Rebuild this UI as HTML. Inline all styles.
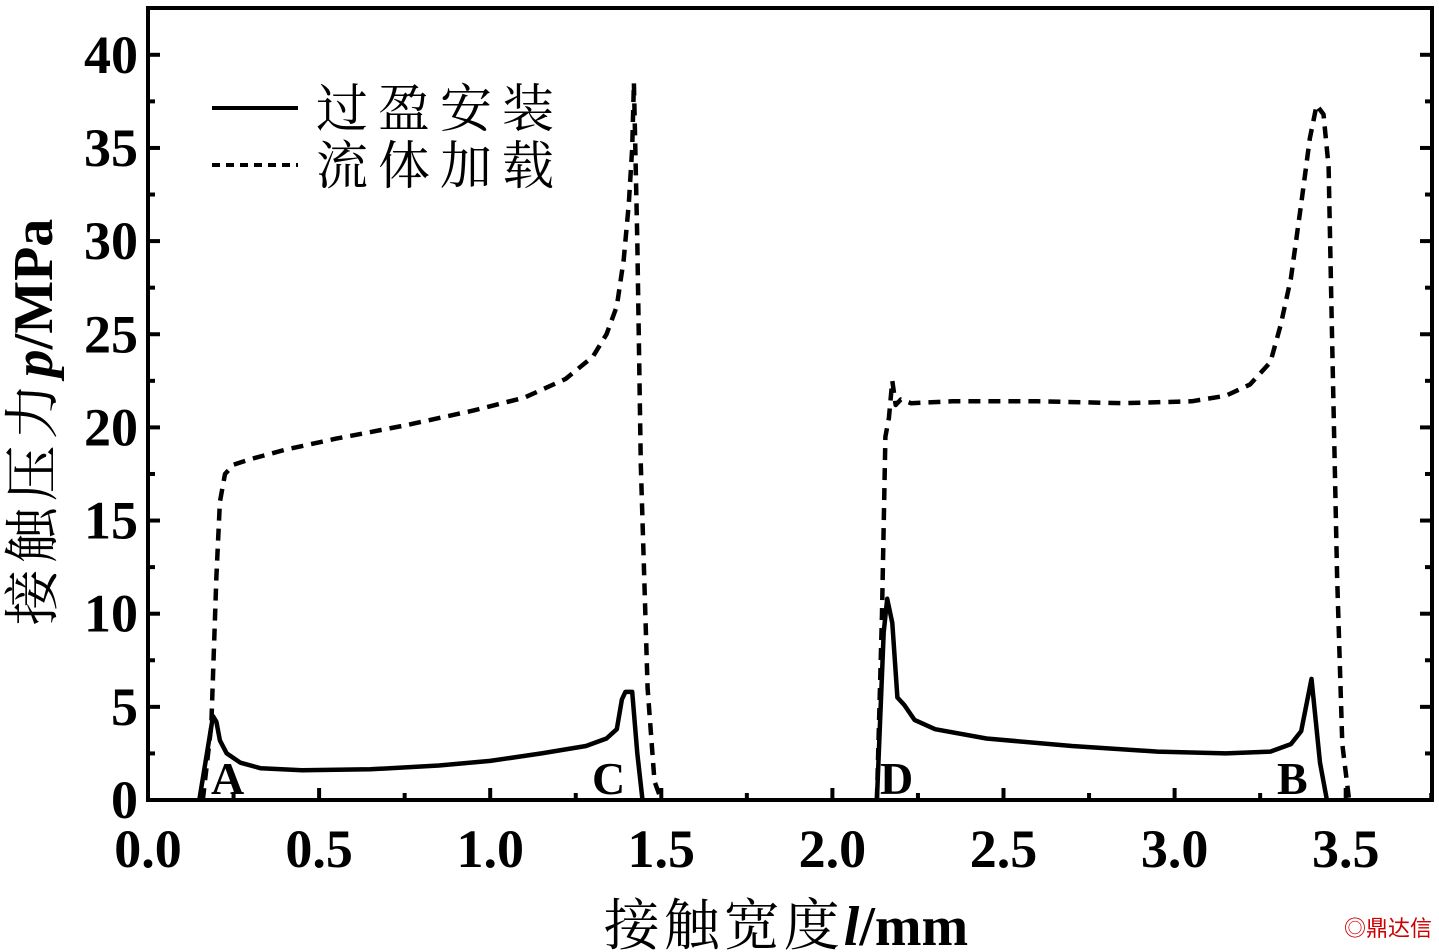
<!DOCTYPE html>
<html><head><meta charset="utf-8"><style>
body{margin:0;background:#fff;}
svg{display:block;font-family:"Liberation Serif","Noto Serif CJK SC",serif;}
</style></head><body>
<svg id="chart" width="1439" height="952" xmlns="http://www.w3.org/2000/svg">
<rect x="148" y="8" width="1284" height="792" fill="none" stroke="#000" stroke-width="4"/>
<g id="ticks"></g>
<g id="series"></g>
<g>
<line x1="212" y1="108" x2="298" y2="108" stroke="#000" stroke-width="4"/>
<text x="316" y="127" font-size="52" letter-spacing="10">过盈安装</text>
<line x1="212" y1="165" x2="298" y2="165" stroke="#000" stroke-width="4" stroke-dasharray="8,6"/>
<text x="316" y="184" font-size="52" letter-spacing="10">流体加载</text>
</g>
<g font-size="46" font-weight="bold">
<text x="211" y="794">A</text>
<text x="592" y="794">C</text>
<text x="880" y="794">D</text>
<text x="1277" y="794">B</text>
</g>
<text x="786" y="945" text-anchor="middle" font-size="56" font-weight="bold"><tspan font-weight="normal" letter-spacing="4">接触宽度</tspan><tspan font-style="italic">l</tspan>/mm</text>
<text transform="translate(52,422) rotate(-90)" text-anchor="middle" font-size="56" font-weight="bold"><tspan font-weight="normal" letter-spacing="6">接触压力</tspan><tspan font-style="italic">p</tspan>/MPa</text>
<text x="1432" y="936" text-anchor="end" font-size="22" fill="#c00" font-family="Liberation Sans,Noto Sans CJK SC,sans-serif">◎鼎达信</text>
</svg>
<script>
const xTicks=[0,0.5,1.0,1.5,2.0,2.5,3.0,3.5];
const yTicks=[0,5,10,15,20,25,30,35,40];
const solid1X=[0.15,0.19,0.2,0.21,0.23,0.27,0.33,0.45,0.65,0.85,1.0,1.15,1.28,1.34,1.37,1.385,1.395,1.415,1.43,1.445];
const solid1Y=[0,4.5,4.2,3.2,2.5,2.0,1.7,1.6,1.65,1.85,2.1,2.5,2.9,3.3,3.8,5.4,5.8,5.8,2.5,0];
const dash1X=[0.16,0.185,0.2,0.21,0.225,0.25,0.3,0.4,0.55,0.75,0.95,1.1,1.22,1.3,1.34,1.37,1.39,1.405,1.415,1.42,1.43,1.44,1.46,1.48,1.5];
const dash1Y=[0,4,12,16,17.5,18,18.3,18.8,19.4,20.1,20.9,21.6,22.6,23.8,25,26.5,29,32,35,38.5,30,18,6,1,0];
const solid2X=[2.13,2.15,2.16,2.175,2.19,2.21,2.24,2.3,2.45,2.7,2.95,3.15,3.28,3.34,3.37,3.4,3.425,3.445];
const solid2Y=[0,9,10.8,9.5,5.5,5.1,4.3,3.8,3.3,2.9,2.6,2.5,2.6,3.0,3.7,6.5,2,0];
const dash2X=[2.13,2.145,2.155,2.165,2.175,2.185,2.2,2.23,2.35,2.6,2.85,3.05,3.15,3.22,3.28,3.31,3.34,3.37,3.395,3.415,3.435,3.45,3.46,3.475,3.49,3.51];
const dash2Y=[0,10,19.5,20.5,22.5,21.2,21.5,21.3,21.4,21.4,21.3,21.4,21.7,22.3,23.5,25.5,28,32,35.5,37.3,36.8,34,25,12,3,0];
const X=v=>148+v*342.2, Y=p=>800-p*18.63;
const ns="http://www.w3.org/2000/svg";
const tg=document.getElementById('ticks'), sg=document.getElementById('series');
function mk(t,a,p){const e=document.createElementNS(ns,t);for(const k in a)e.setAttribute(k,a[k]);p.appendChild(e);return e;}
xTicks.forEach((v,i)=>{
 const t=mk('line',{x1:X(v),x2:X(v),y1:800,y2:788,stroke:'#000','stroke-width':4},tg);
 
 
 const m=mk('line',{x1:X(v+0.25),x2:X(v+0.25),y1:800,y2:793,stroke:'#000','stroke-width':4},tg);
 
 
 const l=mk('text',{x:X(v),y:867,'text-anchor':'middle','font-size':54,'font-weight':'bold'},tg);
 l.textContent=v.toFixed(1);
 
 
});
yTicks.forEach(v=>{
 [[148,160],[1432,1420]].forEach(([a,b])=>{
  const t=mk('line',{x1:a,x2:b,y1:Y(v),y2:Y(v),stroke:'#000','stroke-width':4},tg);
  
  
 });
 if(v<40)[[148,155],[1432,1425]].forEach(([a,b])=>{
  const m=mk('line',{x1:a,x2:b,y1:Y(v+2.5),y2:Y(v+2.5),stroke:'#000','stroke-width':4},tg);
  
  
 });
 const l=mk('text',{x:138,y:Y(v)+18,'text-anchor':'end','font-size':54,'font-weight':'bold'},tg);
 l.textContent=v;
 
 
});
function line(xs,ys,dash,name){
 const d=xs.map((x,i)=>(i?'L':'M')+X(x).toFixed(1)+','+Y(ys[i]).toFixed(1)).join('');
 const p=mk('path',{d:d,fill:'none',stroke:'#000','stroke-width':4.5,'stroke-linejoin':'round'},sg);
 if(dash)p.setAttribute('stroke-dasharray','12,8');
 
 
}
line(solid1X,solid1Y,false,'interference-line-left');
line(solid2X,solid2Y,false,'interference-line-right');
line(dash1X,dash1Y,true,'fluid-line-left');
line(dash2X,dash2Y,true,'fluid-line-right');
</script>
</body></html>
